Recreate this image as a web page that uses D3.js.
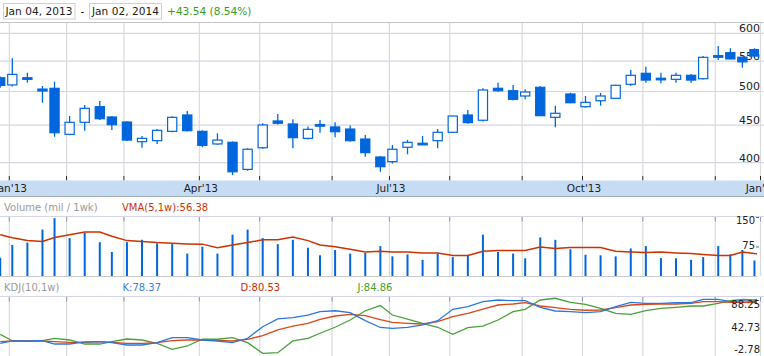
<!DOCTYPE html>
<html><head><meta charset="utf-8">
<script src="https://cdn.jsdelivr.net/npm/d3@7"></script>
<style>
html,body{margin:0;padding:0;background:#fff;}
svg{display:block;font-family:"DejaVu Sans",Verdana,sans-serif;}
</style></head><body>
<svg id="c" width="764" height="356"></svg>
<script>
// ---- data (weekly bars) ----
const dates = ["2012-12-28","2013-01-04","2013-01-11","2013-01-18","2013-01-25","2013-02-01","2013-02-08","2013-02-15","2013-02-22","2013-03-01",
"2013-03-08","2013-03-15","2013-03-22","2013-03-28","2013-04-05","2013-04-12","2013-04-19","2013-04-26","2013-05-03","2013-05-10",
"2013-05-17","2013-05-24","2013-05-31","2013-06-07","2013-06-14","2013-06-21","2013-06-28","2013-07-05","2013-07-12","2013-07-19",
"2013-07-26","2013-08-02","2013-08-09","2013-08-16","2013-08-23","2013-08-30","2013-09-06","2013-09-13","2013-09-20","2013-09-27",
"2013-10-04","2013-10-11","2013-10-18","2013-10-25","2013-11-01","2013-11-08","2013-11-15","2013-11-22","2013-11-29","2013-12-06",
"2013-12-13","2013-12-20","2013-12-27","2014-01-02"];
// trading sessions contained in each weekly bar
const sessions = [0,4,5,5,4, 5,5,5,4,5, 5,5,5,5,5, 5,5,5,5,5, 5,5,4,5,5, 5,5,4,5,5, 5,5,5,5,5, 5,4,5,5,5, 5,5,5,5,5, 5,5,5,4,5, 4,4,4,3];
const open  = [522,510.4,522,503.8,505,437.2,454,476.7,461.6,454.4, 427.2,428.6,441.3,464.5,441.3,424.2,426.4,391.7,419.2,455.9,
 451.6,431.7,450.8,447.4,444.5,430.8,407.2,401.3,419.8,424.5, 428.6,440,464.5,456.9,505,501.2,493,506.6,461.1,496.1,
 476.7,485.7,489.4,511.4,529.3,521.2,519.4,526,520.4,558.6, 564.7,556.7,570,557.5];
const high  = [524,554.8,530.3,508.7,515.6,463,479.2,485.3,463,455.5, 434.9,444.5,462.5,470.4,442.7,438.6,427.5,418.5,452.6,466,
 458.2,447.9,457.3,454,449.3,436.3,408.5,422.8,429.4,434.9, 444.5,463.5,471.8,505,514,510.3,503.5,508.7,478.2,498.1,
 493,497.7,510.5,534.8,540.4,530.3,530.3,528.2,558.7,576.6, 572.4,557.5,572.5,560];
const low   = [506,508,514,482.7,433.9,435.9,442.2,457.3,443.1,428, 419.2,424.2,440,441,419.8,423,384.8,390,418,451,
 418.5,430,439.4,433.1,427,407.6,388.8,399,410.7,424, 418.5,439,452,455,499.7,486,488,463,446.9,482,
 475.2,478.2,489,508.7,514,513,514,514,519,551.9, 553,538.7,557,551];
const close = [509.59,527.5,521,500.8,439.4,454,474.3,459.1,450.6,429.4, 431.7,442.7,461.1,442.2,422.4,429.4,388.8,417.2,450.2,452.6,
 432.6,444.1,450.2,440.8,428.6,412.8,395,417.2,426.4,425.1, 440,463,453.5,502.3,501.2,487.9,499.2,463.5,467,482.7,
 483.3,493,509.8,526,518.2,520.4,526,518.2,556.5,559.4, 553.7,548.6,558.7,553.13];
const volume = [46.6,79,85,118,147,96.5,110,86,61,86, 92,83,81,57,74.6,57,105,118,96.5,81, 92,72,52.6,66,57,58.8,76,50,55,41,
 57,48,52,105,61,57,45,98,92,68, 54,52.6,50,70,76,45.6,45,41,48,76, 55,66,39.5,45];
const vma = [105,97,90,88,98,105,112,112,101,90, 88,85,83,81.6,81,72,79,85,92,92, 99,90,79,74.6,68,61,63,61,61,58.7,
 58.7,52,52,63,65,65,65,73.7,70,72.6, 72.6,72.6,63,61,59.6,61,58.7,57,54.5,52, 52,61,57,56.38];
const kLine = [16.5,20,20,20.4,15.4,15.4,18.5,18.9,17.4,13.9, 13.9,17.4,25,25,21.5,20,17.4,24.1,41.7,53.4, 55.3,59.4,64.4,65.9,62.9,50.8,40.5,39.2,40.8,44.3,
 50.8,68.1,72,79.6,82.2,81.1,81.1,71.1,65.5,64.4, 62.9,64.4,72,78.7,77.2,77.2,78.1,78.1,83.2,83.2, 79.6,81.1,79.6,78.37];
const dLine = [18.9,20,20,20,18.9,18,18,18.9,18,16.5, 16.5,17.4,20.4,21.5,21.5,21,20,22.6,28,36.7, 42.7,46.8,52.9,57.9,60.5,58.4,52.4,48.3,46.8,45.8,
 49.3,56.8,62,68.5,74.6,76.1,78.1,73.1,70.5,68.1, 66.6,67,70.5,74.6,75.7,76.1,76.1,77.2,79.6,79.6, 78.7,78.7,78.1,80.53];
const jLine = [30.1,20.4,20,20.4,24.1,21.5,15.4,15.4,18.9,23, 21.5,16.5,7.4,12.4,22.6,22.6,25,17.4,1.3,2.2, 20,24.1,31.7,40.8,51.8,65.9,73.8,59.4,53,46.8,
 40.8,30.1,40.2,42.7,51.8,64.4,68.1,82.2,84.8,78.7, 75.7,69.6,62,60.5,65.9,69.6,71.1,73.1,73.1,77.2, 81.1,83.2,82.2,84.86];
const priceTicks = [400,450,500,550,600];
const volTicks = [75,150];
const kdjTicks = [-2.78,42.73,88.25];
const quarterMonths = [0,3,6,9];

// ---- setup ----
const svg = d3.select("#c");
const BLUE = "#0066dd";
const parse = d3.timeParse("%Y-%m-%d");
const dt = dates.map(parse);
const cum = Array.from(d3.cumsum(sessions));
const n = dates.length;
const idx = d3.range(n);

const xS = d3.scaleLinear().domain([0, cum[n-1]]).range([0.23, 763.5]);
const yP = d3.scaleLog().domain([400,600]).range([162.7,33.3]);
const yV = d3.scaleLinear().domain([0,150]).range([276,217]);
const yK = d3.scaleLinear().domain([-2.78,88.25]).range([356,296]);
const X = i => xS(cum[i]);

// month boundaries: first bar of each month, gridline one session before it
const monthStarts = idx.filter(i => i>0 && dt[i].getMonth() !== dt[i-1].getMonth());
const gx = i => xS(cum[i]-1);

const defs = svg.append("defs");
defs.append("clipPath").attr("id","cpMain").append("rect").attr("x",0).attr("y",22).attr("width",759).attr("height",158);
defs.append("clipPath").attr("id","cpVol").append("rect").attr("x",0).attr("y",217).attr("width",757).attr("height",59);
defs.append("clipPath").attr("id","cpKdj").append("rect").attr("x",0).attr("y",296).attr("width",757).attr("height",60);

// ---- header ----
const fmt = d3.timeFormat("%b %d, %Y");
const hdr = svg.append("g").style("font-size","10.6px");
hdr.append("rect").attr("x",3.5).attr("y",3.5).attr("width",71.5).attr("height",15.5).attr("fill","#fff").attr("stroke","#d0d0d0");
hdr.append("text").attr("x",5.5).attr("y",15).attr("fill","#222").text(fmt(dt[1]));
hdr.append("text").attr("x",80.5).attr("y",15).attr("fill","#222").text("-");
hdr.append("rect").attr("x",89.5).attr("y",3.5).attr("width",72).attr("height",15.5).attr("fill","#fff").attr("stroke","#d0d0d0");
hdr.append("text").attr("x",92).attr("y",15).attr("fill","#222").text(fmt(dt[n-1]));
const chg = close[n-1]-close[0];
hdr.append("text").attr("x",167).attr("y",15).attr("fill","#3a9a22")
  .text((chg>=0?"+":"")+chg.toFixed(2)+" ("+(chg/close[0]*100).toFixed(2)+"%)");

// ---- main price panel ----
svg.append("line").attr("x1",0).attr("x2",764).attr("y1",22.5).attr("y2",22.5).attr("stroke","#c4c4c4");
const gm = svg.append("g");
gm.selectAll("line.hg").data(priceTicks).join("line").attr("class","hg")
  .attr("x1",0).attr("x2",764).attr("y1",d=>yP(d)).attr("y2",d=>yP(d)).attr("stroke","#d6d6e6").attr("stroke-width",1.2);
gm.selectAll("line.vg").data(monthStarts).join("line").attr("class","vg")
  .attr("x1",d=>gx(d)).attr("x2",d=>gx(d)).attr("y1",23).attr("y2",176).attr("stroke","#d8dcd8").attr("stroke-width",1.2);

const cg = svg.append("g").attr("clip-path","url(#cpMain)");
cg.selectAll("line.wick").data(idx).join("line").attr("class","wick")
  .attr("x1",X).attr("x2",X).attr("y1",i=>yP(high[i])).attr("y2",i=>yP(low[i]))
  .attr("stroke",BLUE).attr("stroke-width",1.3);
cg.selectAll("rect.body").data(idx).join("rect").attr("class","body")
  .attr("x",i=>X(i)-4.6).attr("width",9.2)
  .attr("y",i=>yP(Math.max(open[i],close[i])))
  .attr("height",i=>Math.max(1.6, yP(Math.min(open[i],close[i]))-yP(Math.max(open[i],close[i]))))
  .attr("fill",i=> (Math.abs(close[i]-open[i])<1.2 || close[i]<open[i]) ? BLUE : "#fff")
  .attr("stroke",BLUE).attr("stroke-width",1.2);

gm.selectAll("text.pl").data(priceTicks).join("text").attr("class","pl")
  .attr("x",760).attr("y",d=>yP(d)-1).attr("text-anchor","end")
  .style("font-size","11px").attr("fill","#222").text(d=>d);

// x axis band
svg.selectAll("line.xt").data(monthStarts).join("line").attr("class","xt")
  .attr("x1",d=>gx(d)).attr("x2",d=>gx(d)).attr("y1",176).attr("y2",180.5).attr("stroke","#222");
svg.append("rect").attr("x",0).attr("y",180.5).attr("width",764).attr("height",15.5).attr("fill","#c6dcf4");
svg.append("line").attr("x1",0).attr("x2",764).attr("y1",196.5).attr("y2",196.5).attr("stroke","#a4acb4");
const labFmt = d3.timeFormat("%b'%y");
svg.selectAll("text.xl").data(monthStarts.filter(i=>quarterMonths.includes(dt[i].getMonth()))).join("text").attr("class","xl")
  .attr("x",d=>gx(d)+1.5).attr("y",192).attr("text-anchor","middle")
  .style("font-size","10.5px").attr("fill","#222").text(d=>labFmt(dt[d]));

// ---- volume panel ----
const vh = svg.append("g").style("font-size","10px");
vh.append("text").attr("x",4).attr("y",210.5).attr("fill","#9a9a9a").text("Volume (mil / 1wk)");
vh.append("text").attr("x",122).attr("y",210.5).attr("fill","#cc3300").text("VMA(5,1w):"+vma[n-1].toFixed(2));
svg.append("line").attr("x1",0).attr("x2",764).attr("y1",216.5).attr("y2",216.5).attr("stroke","#d4d4ea");
svg.append("line").attr("x1",0).attr("x2",757).attr("y1",276.5).attr("y2",276.5).attr("stroke","#c8c8c8");
svg.selectAll("line.vvg").data(monthStarts).join("line").attr("class","vvg")
  .attr("x1",d=>gx(d)).attr("x2",d=>gx(d)).attr("y1",217).attr("y2",276).attr("stroke","#d8dcd8").attr("stroke-width",1.2);
svg.selectAll("line.vvt").data(monthStarts).join("line").attr("class","vvt")
  .attr("x1",d=>gx(d)).attr("x2",d=>gx(d)).attr("y1",217).attr("y2",221.5).attr("stroke","#999");
const vg = svg.append("g").attr("clip-path","url(#cpVol)");
vg.selectAll("line.vb").data(idx).join("line").attr("class","vb")
  .attr("x1",X).attr("x2",X).attr("y1",yV(0)).attr("y2",i=>yV(volume[i]))
  .attr("stroke",BLUE).attr("stroke-width",2);
vg.append("path").datum(idx).attr("fill","none").attr("stroke","#cc3300").attr("stroke-width",1.5)
  .attr("d",d3.line().x(X).y(i=>yV(vma[i])));
const vmax = d3.max(volTicks);
svg.selectAll("text.vl").data(volTicks).join("text").attr("class","vl")
  .attr("x",755).attr("y",d=>yV(d)+(d===vmax?7.3:2.8)).attr("text-anchor","end")
  .style("font-size","10px").attr("fill","#222").text(d=>d);
svg.selectAll("line.vtk").data(volTicks).join("line").attr("class","vtk")
  .attr("x1",756).attr("x2",759).attr("y1",d=>yV(d)+0.5).attr("y2",d=>yV(d)+0.5).attr("stroke","#666");

// ---- KDJ panel ----
const kh = svg.append("g").style("font-size","10px");
kh.append("text").attr("x",4).attr("y",290.5).attr("fill","#9a9a9a").text("KDJ(10,1w)");
kh.append("text").attr("x",122.5).attr("y",290.5).attr("fill","#3a7fd8").text("K:"+kLine[n-1].toFixed(2));
kh.append("text").attr("x",240.5).attr("y",290.5).attr("fill","#cc2a00").text("D:"+dLine[n-1].toFixed(2));
kh.append("text").attr("x",357.5).attr("y",290.5).attr("fill","#4a9a2a").text("J:"+jLine[n-1].toFixed(2));
svg.append("line").attr("x1",0).attr("x2",764).attr("y1",296.5).attr("y2",296.5).attr("stroke","#d4d4ea");
svg.selectAll("line.kvg").data(monthStarts).join("line").attr("class","kvg")
  .attr("x1",d=>gx(d)).attr("x2",d=>gx(d)).attr("y1",297).attr("y2",356).attr("stroke","#d8dcd8").attr("stroke-width",1.2);
svg.selectAll("line.kvt").data(monthStarts).join("line").attr("class","kvt")
  .attr("x1",d=>gx(d)).attr("x2",d=>gx(d)).attr("y1",297).attr("y2",301.5).attr("stroke","#999");
const kg = svg.append("g").attr("clip-path","url(#cpKdj)");
[[jLine,"#4aa03a"],[dLine,"#d9481a"],[kLine,"#2a78dd"]].forEach(([arr,col])=>{
  kg.append("path").datum(idx).attr("fill","none").attr("stroke",col).attr("stroke-width",1.3)
    .attr("d",d3.line().x(X).y(i=>yK(arr[i])));
});
const kmax = d3.max(kdjTicks), kmin = d3.min(kdjTicks);
svg.selectAll("text.kl").data(kdjTicks).join("text").attr("class","kl")
  .attr("x",760).attr("y",d=>yK(d)+(d===kmax?12.2:(d===kmin?-2.7:4.6))).attr("text-anchor","end")
  .style("font-size","10px").attr("fill","#222").text(d=>d.toFixed(2));
</script>
</body></html>
